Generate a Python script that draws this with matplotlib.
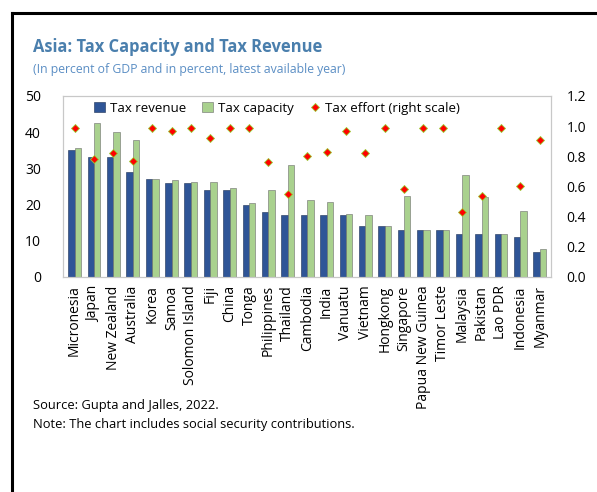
import matplotlib.pyplot as plt
import numpy as np
from matplotlib.lines import Line2D
from matplotlib.patches import Patch

plt.rcParams['font.family'] = ['Open Sans', 'DejaVu Sans']

countries = ['Micronesia', 'Japan', 'New Zealand', 'Australia', 'Korea', 'Samoa',
             'Solomon Island', 'Fiji', 'China', 'Tonga', 'Philippines', 'Thailand',
             'Cambodia', 'India', 'Vanuatu', 'Vietnam', 'Hongkong', 'Singapore',
             'Papua New Guinea', 'Timor Leste', 'Malaysia', 'Pakistan', 'Lao PDR',
             'Indonesia', 'Myanmar']
tax_revenue = [35, 33, 33, 29, 27, 26, 26, 24, 24, 20, 18, 17,
               17, 17, 17, 14, 14, 13, 13, 13, 12, 12, 12, 11, 7]
tax_capacity = [35.5, 42.5, 40, 37.8, 27.2, 26.8, 26.3, 26.1, 24.5, 20.3, 24, 30.9,
                21.3, 20.6, 17.3, 17.1, 14.2, 22.4, 13, 13, 28.1, 22.2, 12, 18.3, 7.6]
tax_effort = [0.99, 0.78, 0.82, 0.77, 0.99, 0.97, 0.99, 0.92, 0.99, 0.99, 0.76, 0.55,
              0.80, 0.83, 0.97, 0.82, 0.99, 0.58, 0.99, 0.99, 0.43, 0.54, 0.99, 0.60, 0.91]

blue = '#2f5597'
green = '#a9d18e'
frame = '#c8c8c8'

fig = plt.figure(figsize=(5.97, 4.92), dpi=100)

# outer border (left and top only)
fig.add_artist(Line2D([0.02, 0.02], [0, 0.973], color='black', lw=2.2))
fig.add_artist(Line2D([0.02, 1.0], [0.973, 0.973], color='black', lw=2.2))

ax = fig.add_axes([0.1055, 0.437, 0.818, 0.368])
x = np.arange(len(countries))
w = 0.33
ax.bar(x - w / 2, tax_revenue, w, color=blue, edgecolor='#1a2f55', linewidth=0.4)
ax.bar(x + w / 2, tax_capacity, w, color=green, edgecolor='#6b6b6b', linewidth=0.4)
ax.set_xlim(-0.6, len(countries) - 0.4)
ax.set_ylim(0, 50)
ax.set_yticks(range(0, 51, 10))
ax.set_xticks(x)
ax.set_xticklabels(countries, rotation=90, fontsize=10)
ax.tick_params(axis='both', length=0, labelsize=10, pad=6)
ax.tick_params(axis='y', pad=16)
for s in ax.spines.values():
    s.set_color(frame)
    s.set_linewidth(0.8)

ax2 = ax.twinx()
ax2.plot(x, tax_effort, linestyle='none', marker='D', markersize=4.4,
         markerfacecolor='#ff0000', markeredgecolor='#9acd32', markeredgewidth=0.6)
ax2.set_ylim(0, 1.2)
ax2.set_yticks(np.arange(0, 1.21, 0.2))
ax2.set_yticklabels(['%.1f' % v for v in np.arange(0, 1.21, 0.2)])
ax2.tick_params(axis='y', length=0, labelsize=10, pad=11)
for s in ax2.spines.values():
    s.set_color(frame)
    s.set_linewidth(0.8)

handles = [Patch(facecolor=blue, edgecolor='#1a2f55', linewidth=0.4),
           Patch(facecolor=green, edgecolor='#6b6b6b', linewidth=0.4),
           Line2D([], [], linestyle='none', marker='D', markersize=4.4,
                  markerfacecolor='#ff0000', markeredgecolor='#9acd32', markeredgewidth=0.6)]
ax2.legend(handles, ['Tax revenue', 'Tax capacity', 'Tax effort (right scale)'],
           loc='upper left', ncol=3, frameon=False, fontsize=9.5,
           bbox_to_anchor=(0.045, 1.02), handlelength=0.8, handletextpad=0.4,
           columnspacing=1.2, borderaxespad=0.3)

fig.text(0.055, 0.905, 'Asia: Tax Capacity and Tax Revenue', fontsize=11.9,
         fontweight='bold', color='#4a7fad', va='center')
fig.text(0.055, 0.858, '(In percent of GDP and in percent, latest available year)',
         fontsize=8.8, color='#5b8ec4', va='center')
fig.text(0.055, 0.176, 'Source: Gupta and Jalles, 2022.', fontsize=9.3, va='center')
fig.text(0.055, 0.138, 'Note: The chart includes social security contributions.',
         fontsize=9.3, va='center')

fig.savefig('out.png', dpi=100)
